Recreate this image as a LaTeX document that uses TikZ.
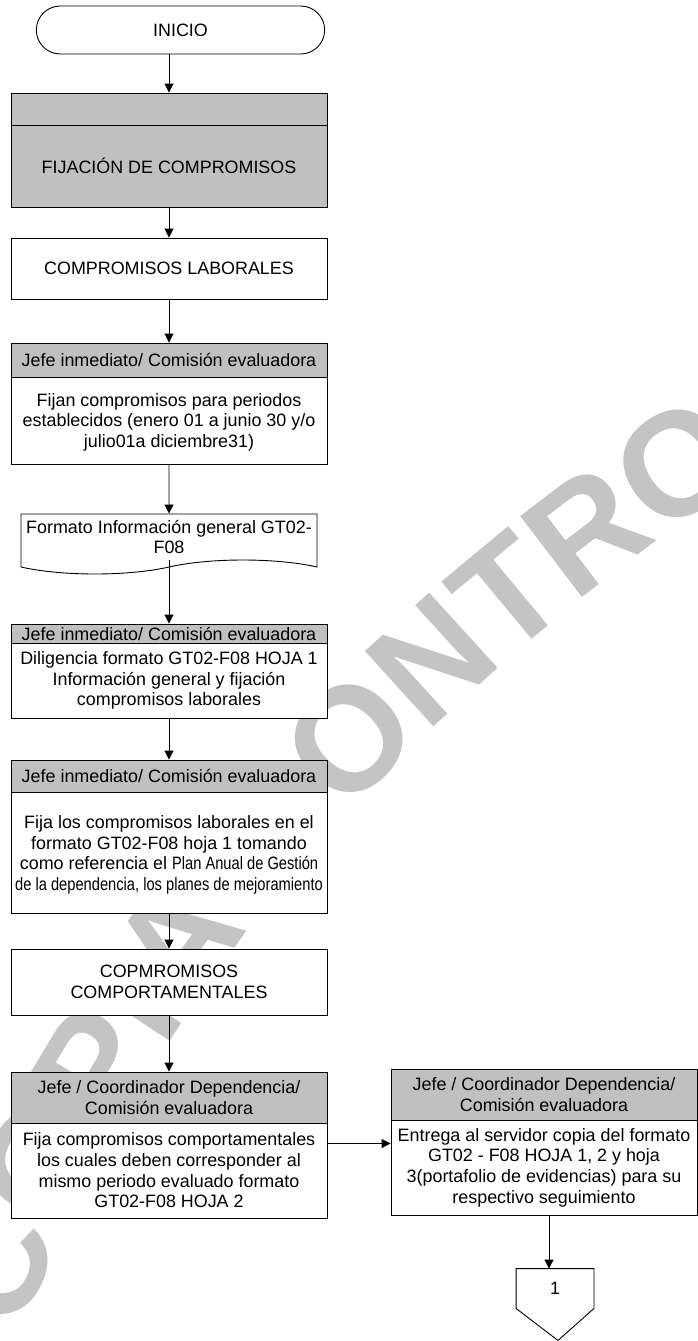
\documentclass[tikz,border=0pt]{standalone}
\usepackage{graphicx}
\usepackage{fontspec}
\setmainfont{Liberation Sans}
\usetikzlibrary{shapes.misc, shapes.symbols, arrows.meta, calc, decorations.text}
\definecolor{hdrgray}{RGB}{192,192,192}
\definecolor{wmgray}{RGB}{196,196,196}
\newcommand{\boxfont}{\fontsize{17.9}{20.7}\selectfont}
\newcommand{\wmfont}{\fontsize{148}{148}\selectfont\bfseries\color{wmgray}}
\newcommand{\narrow}[1]{\scalebox{0.82}[1]{#1}}

\begin{document}
\begin{tikzpicture}[x=1pt, y=-1pt, line width=0.9pt, >={Triangle[length=9pt,width=9pt]},
  box/.style={draw, fill=white, minimum width=316pt, align=center, font=\boxfont, inner sep=0pt},
  hdr/.style={box, fill=hdrgray},
  wmark/.style={decorate, decoration={text along path, text align=left,
    text={|\wmfont|COPIA CONTROLADA}}}]
  \useasboundingbox (0,0) rectangle (698,1341);
  \clip (0,0) rectangle (698,1341);
  % marca de agua
  \path[wmark] (20,1335) .. controls (130,1050) and (340,740) .. (790,450);
  % columna izquierda
  \node[rounded rectangle, draw, fill=white, minimum width=295pt, minimum height=48pt, font=\boxfont] (ini) at (180.5,30) {INICIO};
  \node[hdr, minimum height=32pt] (fijh) at (169,109) {};
  \node[hdr, minimum height=82pt] (fijb) at (169,166) {FIJACIÓN DE COMPROMISOS};
  \node[box, minimum height=61pt] (lab) at (169,268.5) {COMPROMISOS LABORALES};
  \node[hdr, minimum height=34pt] (jefe1) at (169,360) {Jefe inmediato/ Comisión evaluadora};
  \node[box, minimum height=87pt] (fijan) at (169,420.5) {\mbox{}\\[-4pt]Fijan compromisos para periodos\\establecidos (enero 01 a junio 30 y/o\\julio01a diciembre31)};
  \node[tape, draw, fill=white, tape bend top=none, tape bend bottom=in and out, tape bend height=14pt,
    minimum width=296pt, minimum height=60pt, font=\boxfont, align=center, inner sep=0pt] (fmt) at (169,537) {Formato Información general GT02-\\F08};
  \node[hdr, minimum height=19pt] (jefe2) at (169,633.5) {Jefe inmediato/ Comisión evaluadora};
  \node[box, minimum height=75pt] (dilig) at (169,680.5) {Diligencia formato GT02-F08 HOJA 1\\Información general y fijación\\compromisos laborales};
  \node[hdr, minimum height=32pt] (jefe3) at (169,776) {Jefe inmediato/ Comisión evaluadora};
  \node[box, minimum height=121pt] (fija) at (169,852.5) {\mbox{}\\[-3pt]Fija los compromisos laborales en el\\formato GT02-F08 hoja 1 tomando\\como referencia el \narrow{Plan Anual de Gestión}\\\narrow{de la dependencia, los planes de mejoramiento}};
  \node[box, minimum height=66pt] (cmp) at (169,982) {COPMROMISOS\\COMPORTAMENTALES};
  \node[hdr, minimum height=51pt] (jefe4) at (169,1097.5) {Jefe / Coordinador Dependencia/\\Comisión evaluadora};
  \node[box, minimum height=95pt] (fijc) at (169,1170.5) {Fija compromisos comportamentales\\los cuales deben corresponder al\\mismo periodo evaluado formato\\GT02-F08 HOJA 2};
  % columna derecha
  \node[hdr, minimum width=306pt, minimum height=51pt] (jefe5) at (544,1094.5) {Jefe / Coordinador Dependencia/\\Comisión evaluadora};
  \node[box, minimum width=306pt, minimum height=95pt] (entr) at (544,1167.5) {Entrega al servidor copia del formato\\GT02 - F08 HOJA 1, 2 y hoja\\3(portafolio de evidencias) para su\\respectivo seguimiento};
  \node[minimum width=77pt, minimum height=39pt, font=\boxfont] (conn) at (555,1288.5) {1};
  \draw (conn.north west) -- (conn.north east) -- (conn.south east) -- ($(conn.south)+(3,32)$) -- (conn.south west) -- cycle;
  % flechas
  \draw[->] (ini.south -| fijh.north) -- (fijh.north);
  \draw[->] (fijb) -- (lab);
  \draw[->] (lab) -- (jefe1);
  \draw[->] (fijan) -- (fmt);
  \draw[->] (fmt.south) -- (jefe2);
  \draw[->] (dilig) -- (jefe3);
  \draw[->] (fija) -- (cmp);
  \draw[->] (cmp) -- (jefe4);
  \draw[->] ([yshift=27pt]fijc.east) -- ([yshift=27pt]fijc.east -| entr.west);
  \draw[->] ([xshift=5pt]entr.south) -- ([xshift=-6pt]conn.north);
\end{tikzpicture}
\end{document}
